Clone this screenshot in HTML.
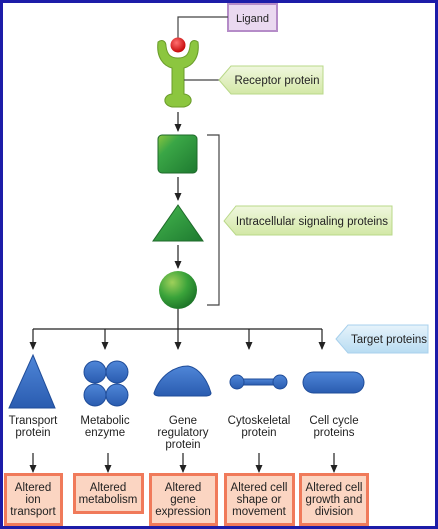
<!DOCTYPE html>
<html><head><style>
html,body{margin:0;padding:0;background:#fff}
svg{display:block}
text{font-family:"Liberation Sans",sans-serif;fill:#222}
</style></head><body>
<svg width="438" height="529" viewBox="0 0 438 529" xmlns="http://www.w3.org/2000/svg">
<defs>
<marker id="a" markerWidth="8" markerHeight="8" refX="7" refY="3.5" orient="auto" markerUnits="userSpaceOnUse"><path d="M0,0 L8,3.5 L0,7 Z" fill="#222"/></marker>
<radialGradient id="gr" cx="0.35" cy="0.3" r="0.8"><stop offset="0" stop-color="#9fd05a"/><stop offset="0.5" stop-color="#3aa33a"/><stop offset="1" stop-color="#176b24"/></radialGradient>
<linearGradient id="gs" x1="0" y1="0" x2="1" y2="1"><stop offset="0" stop-color="#8cc63f"/><stop offset="0.3" stop-color="#3aa646"/><stop offset="1" stop-color="#1e7a30"/></linearGradient>
<radialGradient id="red" cx="0.4" cy="0.35" r="0.7"><stop offset="0" stop-color="#ff7070"/><stop offset="1" stop-color="#c00000"/></radialGradient>
<linearGradient id="bl" x1="0" y1="0" x2="0" y2="1"><stop offset="0" stop-color="#4f86d8"/><stop offset="1" stop-color="#2a5cb0"/></linearGradient>
<linearGradient id="pg" x1="0" y1="0" x2="0" y2="1"><stop offset="0" stop-color="#f0f7de"/><stop offset="1" stop-color="#d3e8a6"/></linearGradient>
<linearGradient id="pb" x1="0" y1="0" x2="0" y2="1"><stop offset="0" stop-color="#e6f3fb"/><stop offset="1" stop-color="#b8dcf2"/></linearGradient>
</defs>
<rect x="1.5" y="1.5" width="435" height="526" fill="#fff" stroke="#1c1ca8" stroke-width="3"/>
<rect x="228" y="4" width="49" height="27" fill="#ead9f0" stroke="#b58cc8" stroke-width="2"/>
<text x="252.5" y="22" font-size="11" text-anchor="middle">Ligand</text>
<path d="M228,17 H178 V40" stroke="#444" fill="none" stroke-width="1.2"/>
<path d="M158,42 C156,58 164,66 172,68 V94 C163,95 162,105 172,107 H184 C194,105 193,95 184,94 V68 C192,66 200,58 198,42 C194,39 190,41 190,46 C189,56 184,58 178,58 C172,58 167,56 166,46 C166,41 162,39 158,42 Z" fill="#8cc63f" stroke="#6a9c2a" stroke-width="1"/>
<circle cx="178" cy="45" r="7.5" fill="url(#red)"/>
<path d="M184,80 H219" stroke="#444" stroke-width="1.2"/>
<path d="M219,80 L231,66 H323 V94 H231 Z" fill="url(#pg)" stroke="#b9d888" stroke-width="1"/>
<text x="277" y="84" font-size="11.5" text-anchor="middle">Receptor protein</text>
<line x1="178" y1="112" x2="178" y2="131" stroke="#222" stroke-width="1.2" marker-end="url(#a)"/>
<rect x="158" y="135" width="39" height="38" rx="4" fill="url(#gs)" stroke="#1e6a2a" stroke-width="1"/>
<line x1="178" y1="177" x2="178" y2="200" stroke="#222" stroke-width="1.2" marker-end="url(#a)"/>
<path d="M178,205 L203,241 H153 Z" fill="url(#gs)" stroke="#1e6a2a" stroke-width="1"/>
<line x1="178" y1="245" x2="178" y2="268" stroke="#222" stroke-width="1.2" marker-end="url(#a)"/>
<circle cx="178" cy="290" r="19" fill="url(#gr)"/>
<path d="M207,135 H219 V305 H207" stroke="#444" fill="none" stroke-width="1.2"/>
<path d="M224,221 L236,206 H392 V235 H236 Z" fill="url(#pg)" stroke="#b9d888" stroke-width="1"/>
<text x="312" y="225" font-size="11.5" text-anchor="middle">Intracellular signaling proteins</text>
<line x1="178" y1="309" x2="178" y2="329" stroke="#222" stroke-width="1.2"/>
<line x1="33" y1="329" x2="322" y2="329" stroke="#222" stroke-width="1.2"/>
<g stroke="#222" stroke-width="1.2">
<line x1="33" y1="329" x2="33" y2="349" marker-end="url(#a)"/>
<line x1="105" y1="329" x2="105" y2="349" marker-end="url(#a)"/>
<line x1="178" y1="329" x2="178" y2="349" marker-end="url(#a)"/>
<line x1="249" y1="329" x2="249" y2="349" marker-end="url(#a)"/>
<line x1="322" y1="329" x2="322" y2="349" marker-end="url(#a)"/>
</g>
<path d="M336,339 L348,325 H428 V353 H348 Z" fill="url(#pb)" stroke="#a8d0ec" stroke-width="1"/>
<text x="389" y="343" font-size="11.5" text-anchor="middle">Target proteins</text>
<path d="M33,355 L55,408 H9 Z" fill="url(#bl)" stroke="#1f4c99" stroke-width="1"/>
<g fill="url(#bl)" stroke="#1f4c99" stroke-width="1">
<circle cx="95" cy="372" r="11"/><circle cx="117" cy="372" r="11"/>
<circle cx="95" cy="395" r="11"/><circle cx="117" cy="395" r="11"/>
<path d="M154,393 C160,375 175,366 188,366 C200,368 208,382 211,393 Q211,396 205,396 H160 Q154,396 154,393 Z"/>
<rect x="237" y="379" width="43" height="6"/>
<circle cx="237" cy="382" r="7"/><circle cx="280" cy="382" r="7"/>
<rect x="303" y="372" width="61" height="21" rx="10.5"/>
</g>
<g font-size="11.5" text-anchor="middle">
<text x="33" y="424">Transport</text><text x="33" y="436">protein</text>
<text x="105" y="424">Metabolic</text><text x="105" y="436">enzyme</text>
<text x="183" y="424">Gene</text><text x="183" y="436">regulatory</text><text x="183" y="448">protein</text>
<text x="259" y="424">Cytoskeletal</text><text x="259" y="436">protein</text>
<text x="334" y="424">Cell cycle</text><text x="334" y="436">proteins</text>
</g>
<g stroke="#222" stroke-width="1.2">
<line x1="33" y1="453" x2="33" y2="472" marker-end="url(#a)"/>
<line x1="108" y1="453" x2="108" y2="472" marker-end="url(#a)"/>
<line x1="183" y1="453" x2="183" y2="472" marker-end="url(#a)"/>
<line x1="259" y1="453" x2="259" y2="472" marker-end="url(#a)"/>
<line x1="334" y1="453" x2="334" y2="472" marker-end="url(#a)"/>
</g>
<g fill="#fbd5c2" stroke="#f07a5a" stroke-width="3">
<rect x="5.5" y="474.5" width="56" height="50"/>
<rect x="74.5" y="474.5" width="68" height="38"/>
<rect x="150.5" y="474.5" width="66" height="50"/>
<rect x="225.5" y="474.5" width="68" height="50"/>
<rect x="300.5" y="474.5" width="67" height="50"/>
</g>
<g font-size="11.5" text-anchor="middle">
<text x="33" y="491">Altered</text><text x="33" y="503">ion</text><text x="33" y="515">transport</text>
<text x="108" y="491">Altered</text><text x="108" y="503">metabolism</text>
<text x="183" y="491">Altered</text><text x="183" y="503">gene</text><text x="183" y="515">expression</text>
<text x="259" y="491">Altered cell</text><text x="259" y="503">shape or</text><text x="259" y="515">movement</text>
<text x="334" y="491">Altered cell</text><text x="334" y="503">growth and</text><text x="334" y="515">division</text>
</g>
</svg>
</body></html>
